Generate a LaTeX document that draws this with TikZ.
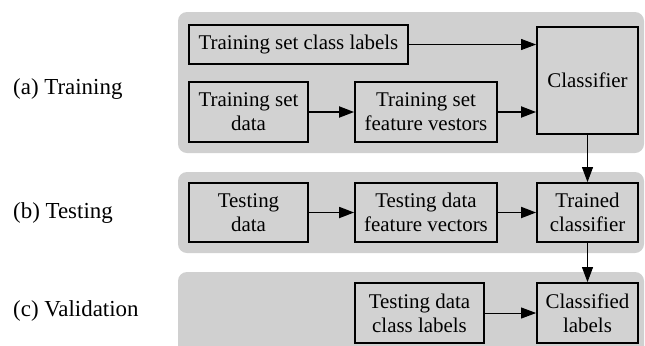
\documentclass[tikz,border=0pt]{standalone}
\usepackage{fontspec}
\setmainfont{Liberation Serif}
\usetikzlibrary{arrows.meta}
\definecolor{panelgray}{RGB}{208,208,208}
\definecolor{boxgray}{RGB}{210,210,210}
\begin{document}
\begin{tikzpicture}[x=1bp,y=-1bp,
  panel/.style={fill=panelgray,draw=none,rounded corners=9bp},
  blk/.style={draw=black,line width=1.8bp,fill=boxgray,align=center,inner sep=0pt,
    font=\fontsize{21}{24}\selectfont},
  lab/.style={anchor=west,inner sep=0pt,font=\fontsize{23}{26}\selectfont},
  thick arrow/.style={line width=1.8bp,-{Triangle[length=15bp,width=11bp]}},
  thin arrow/.style={line width=0.9bp,-{Triangle[length=15bp,width=11bp]}}]
\useasboundingbox (0,0) rectangle (645,345);
\clip (0,0) rectangle (645,345);
\fill[white] (0,0) rectangle (645,345);
% panels
\path[panel] (178,12) rectangle (644,153);
\path[panel] (178,172) rectangle (644,253);
\path[panel] (178,272) rectangle (644,375);
% left labels
\node[lab] (la) at (13,89) {(a) Training};
\node[lab] (lb) at (13,213) {(b) Testing};
\node[lab] (lc) at (13,311) {(c) Validation};
% boxes
\node[blk,minimum width=219bp,minimum height=39bp] (cl) at (298.5,44.5) {Training set class labels};
\node[blk,minimum width=119bp,minimum height=60bp] (tsd) at (248.5,112) {Training set\\data};
\node[blk,minimum width=142bp,minimum height=60bp] (tsf) at (426,112) {Training set\\feature vestors};
\node[blk,minimum width=101bp,minimum height=107bp] (clf) at (587.5,80.5) {Classifier};
\node[blk,minimum width=119bp,minimum height=59bp] (ted) at (248.5,212.5) {Testing\\data};
\node[blk,minimum width=142bp,minimum height=59bp] (tef) at (426,212.5) {Testing data\\feature vectors};
\node[blk,minimum width=101bp,minimum height=59bp] (trc) at (587.5,212.5) {Trained\\classifier};
\node[blk,minimum width=129bp,minimum height=60bp] (tcl) at (419.5,313) {Testing data\\class labels};
\node[blk,minimum width=101bp,minimum height=60bp] (cll) at (587.5,313) {Classified\\labels};
% connectors
\draw[thin arrow] (cl.east) -- (cl.east -| clf.west);
\draw[thick arrow] (tsd) -- (tsf);
\draw[thick arrow] (tsf.east) -- (tsf.east -| clf.west);
\draw[thin arrow] (clf.south) -- (trc.north);
\draw[thick arrow] (ted) -- (tef);
\draw[thick arrow] (tef) -- (trc);
\draw[thin arrow] (trc.south) -- (cll.north);
\draw[thin arrow] (tcl) -- (cll);
\end{tikzpicture}
\end{document}
